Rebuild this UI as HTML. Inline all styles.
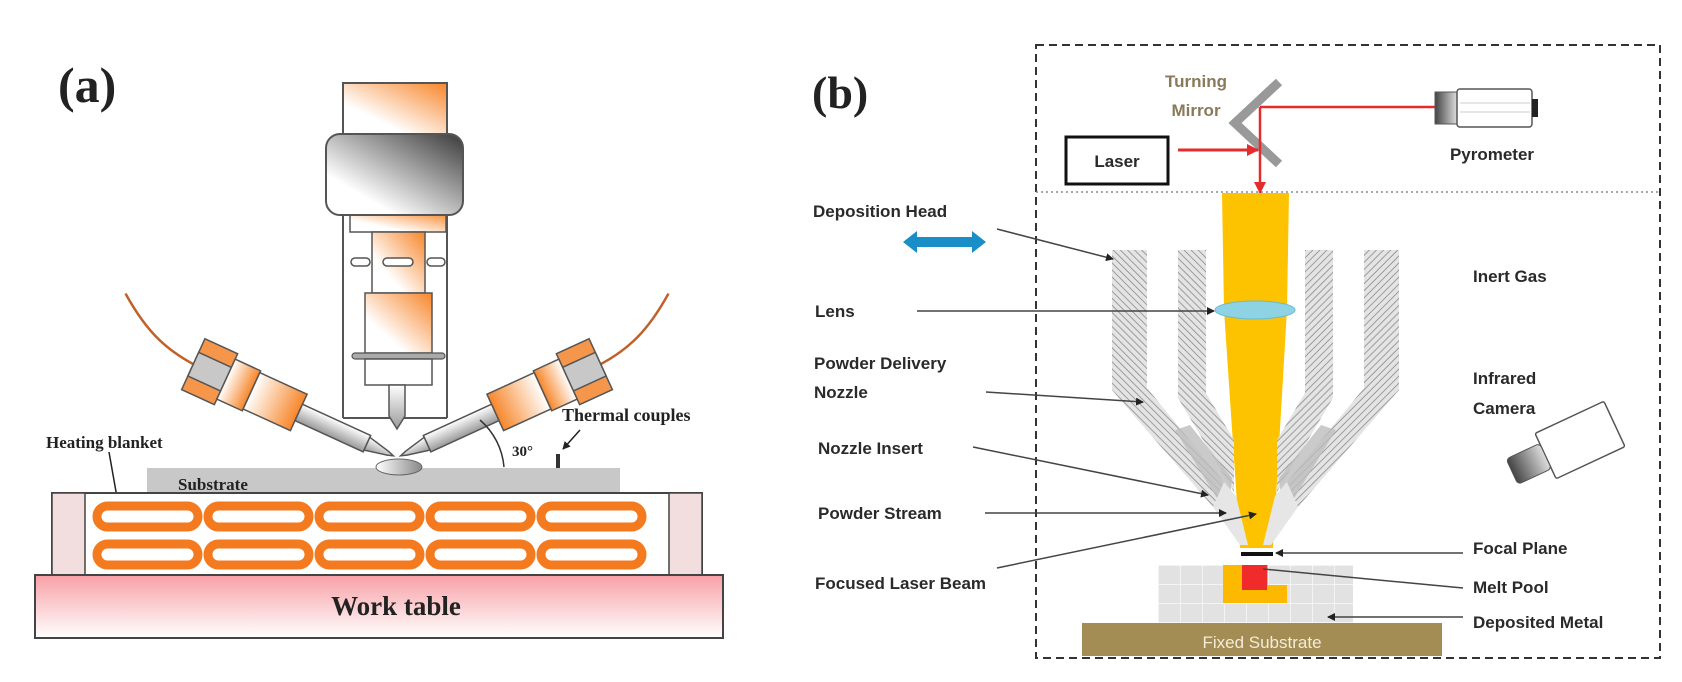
<!DOCTYPE html>
<html><head><meta charset="utf-8"><style>
html,body{margin:0;padding:0;background:#fff;}
svg{display:block;}
.ser{font-family:"Liberation Serif",serif;font-weight:bold;fill:#222;}
.san{font-family:"Liberation Sans",sans-serif;font-weight:bold;fill:#2a2a2a;font-size:17px;}
</style></head><body>
<svg width="1682" height="682" viewBox="0 0 1682 682" xmlns="http://www.w3.org/2000/svg">
<defs>
<linearGradient id="og" x1="0" y1="1" x2="1" y2="0"><stop offset="0.3" stop-color="#fff"/><stop offset="1" stop-color="#f7862a"/></linearGradient>
<linearGradient id="og2" x1="0" y1="0" x2="1" y2="0"><stop offset="0" stop-color="#fff"/><stop offset="1" stop-color="#f7862a"/></linearGradient>
<linearGradient id="gg" x1="0" y1="1" x2="1" y2="0"><stop offset="0.25" stop-color="#fff"/><stop offset="1" stop-color="#3a3a3a"/></linearGradient>
<linearGradient id="tube" x1="0" y1="0" x2="0" y2="1"><stop offset="0" stop-color="#fff"/><stop offset="1" stop-color="#999"/></linearGradient>
<linearGradient id="wt" x1="0" y1="0" x2="0" y2="1"><stop offset="0" stop-color="#f7a0a6"/><stop offset="1" stop-color="#fff"/></linearGradient>
<linearGradient id="pool" x1="0" y1="0" x2="1" y2="0"><stop offset="0" stop-color="#fff"/><stop offset="1" stop-color="#888"/></linearGradient>
<linearGradient id="cam" x1="0" y1="0" x2="1" y2="0"><stop offset="0" stop-color="#444"/><stop offset="1" stop-color="#ddd"/></linearGradient>
<pattern id="hatch" patternUnits="userSpaceOnUse" width="5" height="5" patternTransform="rotate(-45)">
<rect width="5" height="5" fill="#e4e4e4"/><line x1="0" y1="0" x2="0" y2="5" stroke="#8a8a8a" stroke-width="1.6"/></pattern>
<pattern id="grid" patternUnits="userSpaceOnUse" width="22" height="19" x="1158" y="565">
<rect width="22" height="19" fill="#e2e2e2"/><path d="M0 0H22M0 0V19" stroke="#fff" stroke-width="1.2"/></pattern>
<marker id="ah" markerWidth="8" markerHeight="8" refX="7" refY="4" orient="auto" markerUnits="userSpaceOnUse"><path d="M0 0L8 4L0 8z" fill="#222"/></marker>
<marker id="ar" markerWidth="12" markerHeight="12" refX="11" refY="6" orient="auto" markerUnits="userSpaceOnUse"><path d="M0 0L12 6L0 12z" fill="#e52b2b"/></marker>
<g id="nozzle">
<path d="M-14 0 C-45 -2,-70 -10,-105 -36" fill="none" stroke="#c0602a" stroke-width="2.5"/>
<rect x="-14" y="-28" width="36" height="56" fill="#f5964a" stroke="#555" stroke-width="1.5"/>
<rect x="-14" y="-13" width="36" height="26" fill="#c8c8c8" stroke="#555" stroke-width="1.5"/>
<rect x="22" y="-22" width="28" height="44" fill="url(#og2)" stroke="#555" stroke-width="1.5"/>
<rect x="50" y="-20" width="52" height="40" fill="url(#og2)" stroke="#555" stroke-width="1.5"/>
<rect x="102" y="-9" width="75" height="18" fill="url(#tube)" stroke="#555" stroke-width="1.5"/>
<path d="M177 -7 L200 -2 L206 0 L200 2 L177 7z" fill="url(#tube)" stroke="#555" stroke-width="1.5"/>
</g>
<g id="bnoz">
<polygon points="1112,250 1147,250 1147,388 1224,482 1213,507 1112,390" fill="url(#hatch)"/>
<polygon points="1178,250 1206,250 1206,393 1234,440 1234,492 1178,398" fill="url(#hatch)"/>
<polygon points="1175,430 1190,425 1232,478 1230,497 1218,500" fill="#bdbdbd" opacity="0.8"/>
<polygon points="1213,507 1224,482 1236,496 1248,545 1240,545" fill="#e6e6e6"/>
</g>
</defs>

<!-- Panel a -->
<text x="58" y="102" class="ser" font-size="50">(a)</text>
<rect x="343" y="83" width="104" height="51" fill="url(#og)" stroke="#555" stroke-width="2"/>
<line x1="343" y1="134" x2="343" y2="418" stroke="#555" stroke-width="2"/>
<line x1="447" y1="134" x2="447" y2="418" stroke="#555" stroke-width="2"/>
<line x1="343" y1="418" x2="447" y2="418" stroke="#555" stroke-width="2"/>
<rect x="350" y="212" width="96" height="20" fill="url(#og)" stroke="#555" stroke-width="1.5"/>
<rect x="372" y="232" width="53" height="61" fill="url(#og)" stroke="#555" stroke-width="1.5"/>
<rect x="351" y="258" width="19" height="8" rx="4" fill="#fff" stroke="#555" stroke-width="1.5"/>
<rect x="383" y="258" width="30" height="8" rx="4" fill="#fff" stroke="#555" stroke-width="1.5"/>
<rect x="427" y="258" width="18" height="8" rx="4" fill="#fff" stroke="#555" stroke-width="1.5"/>
<rect x="365" y="293" width="67" height="60" fill="url(#og)" stroke="#555" stroke-width="1.5"/>
<rect x="352" y="353" width="93" height="6" rx="3" fill="#aaa" stroke="#555" stroke-width="1.2"/>
<rect x="365" y="359" width="67" height="26" fill="#fff" stroke="#555" stroke-width="1.5"/>
<path d="M389 385 H405 V416 L397 429 L389 416z" fill="url(#tube)" stroke="#555" stroke-width="1.5"/>
<rect x="326" y="134" width="137" height="81" rx="14" fill="url(#gg)" stroke="#555" stroke-width="2"/>
<g transform="translate(206,370) rotate(24.6)"><use href="#nozzle"/></g>
<g transform="translate(794,0) scale(-1,1)"><g transform="translate(206,370) rotate(24.6)"><use href="#nozzle"/></g></g>
<rect x="147" y="468" width="473" height="24" fill="#c8c8c8"/>
<ellipse cx="399" cy="467" rx="23" ry="8" fill="url(#pool)" stroke="#666" stroke-width="1"/>
<text x="178" y="490" class="ser" font-size="17" fill="#555">Substrate</text>
<path d="M504 467 A70 70 0 0 0 480 420" fill="none" stroke="#333" stroke-width="1.5"/>
<text x="512" y="456" class="ser" font-size="15">30°</text>
<rect x="556" y="454" width="4" height="14" fill="#333"/>
<text x="562" y="421" class="ser" font-size="18">Thermal couples</text>
<line x1="580" y1="430" x2="563" y2="449" stroke="#222" stroke-width="1.5" marker-end="url(#ah)"/>
<text x="46" y="448" class="ser" font-size="17">Heating blanket</text>
<line x1="109" y1="452" x2="118" y2="503" stroke="#222" stroke-width="1.5" marker-end="url(#ah)"/>
<rect x="52" y="493" width="650" height="82" fill="#fff" stroke="#444" stroke-width="2"/>
<rect x="52" y="493" width="33" height="82" fill="#f2dede" stroke="#444" stroke-width="1.5"/>
<rect x="669" y="493" width="33" height="82" fill="#f2dede" stroke="#444" stroke-width="1.5"/>
<g fill="none" stroke="#f47a20" stroke-width="9">
<rect x="97" y="506" width="101" height="21" rx="10.5"/><rect x="208" y="506" width="101" height="21" rx="10.5"/><rect x="319" y="506" width="101" height="21" rx="10.5"/><rect x="430" y="506" width="101" height="21" rx="10.5"/><rect x="541" y="506" width="101" height="21" rx="10.5"/>
<rect x="97" y="544" width="101" height="21" rx="10.5"/><rect x="208" y="544" width="101" height="21" rx="10.5"/><rect x="319" y="544" width="101" height="21" rx="10.5"/><rect x="430" y="544" width="101" height="21" rx="10.5"/><rect x="541" y="544" width="101" height="21" rx="10.5"/>
</g>
<rect x="35" y="575" width="688" height="63" fill="url(#wt)" stroke="#444" stroke-width="2"/>
<text x="396" y="615" class="ser" font-size="27" text-anchor="middle">Work table</text>

<!-- Panel b -->
<text x="812" y="108" class="ser" font-size="46">(b)</text>
<rect x="1036" y="45" width="624" height="613" fill="none" stroke="#333" stroke-width="2" stroke-dasharray="8,5"/>
<line x1="1036" y1="192" x2="1660" y2="192" stroke="#888" stroke-width="1.5" stroke-dasharray="2,3"/>
<rect x="1066" y="137" width="102" height="47" fill="#fff" stroke="#111" stroke-width="3"/>
<text x="1117" y="167" class="san" text-anchor="middle" font-size="18">Laser</text>
<text x="1196" y="87" class="san" text-anchor="middle" style="fill:#8a7a5a">Turning</text>
<text x="1196" y="116" class="san" text-anchor="middle" style="fill:#8a7a5a">Mirror</text>
<path d="M1279 82 L1235 123 L1279 164" fill="none" stroke="#999" stroke-width="9"/>
<line x1="1178" y1="150" x2="1258" y2="150" stroke="#e52b2b" stroke-width="3" marker-end="url(#ar)"/>
<line x1="1260" y1="107" x2="1435" y2="107" stroke="#e52b2b" stroke-width="2.5"/>
<line x1="1260" y1="107" x2="1260" y2="193" stroke="#e52b2b" stroke-width="2.5" marker-end="url(#ar)"/>
<rect x="1435" y="92" width="22" height="32" fill="url(#cam)" stroke="#555"/>
<rect x="1457" y="89" width="75" height="38" rx="3" fill="#fff" stroke="#555" stroke-width="1.5"/>
<line x1="1460" y1="103" x2="1530" y2="103" stroke="#ccc"/><line x1="1460" y1="112" x2="1530" y2="112" stroke="#ccc"/>
<rect x="1532" y="99" width="6" height="18" fill="#222"/>
<text x="1492" y="160" class="san" text-anchor="middle">Pyrometer</text>
<polygon points="1222,193 1289,193 1287,310 1273,548 1240,548 1224,310" fill="#fdc300"/>
<use href="#bnoz"/>
<g transform="translate(2511,0) scale(-1,1)"><use href="#bnoz"/></g>
<ellipse cx="1255" cy="310" rx="40" ry="9" fill="#8ed3e3" stroke="#6bbad0"/>
<rect x="1241" y="552" width="32" height="4" fill="#111"/>
<rect x="1158" y="565" width="195" height="58" fill="url(#grid)"/>
<path d="M1223 565 H1268 V585 H1287 V603 H1223z" fill="#fdb800"/>
<rect x="1242" y="565" width="25" height="25" fill="#ef2b2b"/>
<rect x="1082" y="623" width="360" height="33" fill="#a38d55"/>
<text x="1262" y="648" class="san" text-anchor="middle" font-size="19" style="fill:#f3ecd8;font-weight:normal">Fixed Substrate</text>
<path d="M903 242 L917 231 V237 H972 V231 L986 242 L972 253 V247 H917 V253z" fill="#1a8fc7"/>
<text x="813" y="217" class="san" font-size="18">Deposition Head</text>
<line x1="997" y1="229" x2="1113" y2="259" stroke="#444" stroke-width="1.5" marker-end="url(#ah)"/>
<text x="815" y="317" class="san">Lens</text>
<line x1="917" y1="311" x2="1214" y2="311" stroke="#444" stroke-width="1.5" marker-end="url(#ah)"/>
<text x="814" y="369" class="san">Powder Delivery</text>
<text x="814" y="398" class="san">Nozzle</text>
<line x1="986" y1="392" x2="1143" y2="402" stroke="#444" stroke-width="1.5" marker-end="url(#ah)"/>
<text x="818" y="454" class="san">Nozzle Insert</text>
<line x1="973" y1="447" x2="1208" y2="495" stroke="#444" stroke-width="1.5" marker-end="url(#ah)"/>
<text x="818" y="519" class="san">Powder Stream</text>
<line x1="985" y1="513" x2="1226" y2="513" stroke="#444" stroke-width="1.5" marker-end="url(#ah)"/>
<text x="815" y="589" class="san">Focused Laser Beam</text>
<line x1="997" y1="568" x2="1256" y2="514" stroke="#444" stroke-width="1.5" marker-end="url(#ah)"/>
<text x="1473" y="282" class="san">Inert Gas</text>
<text x="1473" y="384" class="san">Infrared</text>
<text x="1473" y="414" class="san">Camera</text>
<g transform="translate(1580,440) rotate(-25)">
<rect x="-38" y="-25" width="76" height="50" rx="2" fill="#fff" stroke="#555" stroke-width="1.5"/>
<rect x="-75" y="-14" width="37" height="28" rx="4" fill="url(#cam)" stroke="#555"/>
</g>
<text x="1473" y="554" class="san">Focal Plane</text>
<line x1="1463" y1="553" x2="1276" y2="553" stroke="#444" stroke-width="1.5" marker-end="url(#ah)"/>
<text x="1473" y="593" class="san">Melt Pool</text>
<line x1="1463" y1="588" x2="1263" y2="569" stroke="#444" stroke-width="1.5"/>
<text x="1473" y="628" class="san">Deposited Metal</text>
<line x1="1463" y1="617" x2="1328" y2="617" stroke="#444" stroke-width="1.5" marker-end="url(#ah)"/>
</svg>
</body></html>
